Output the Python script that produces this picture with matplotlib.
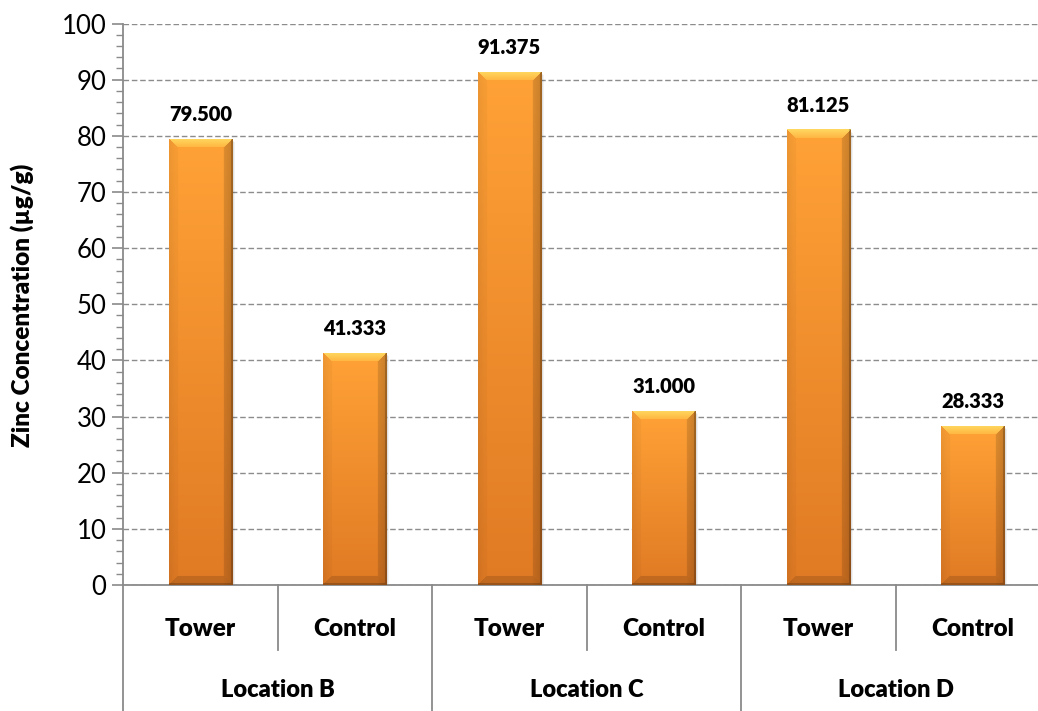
import numpy as np
import matplotlib
matplotlib.use("Agg")
import matplotlib.pyplot as plt
from matplotlib.colors import to_rgb

plt.rcParams['font.family'] = ['Lato', 'DejaVu Sans']

# Data
locations = ["Location B", "Location C", "Location D"]
sites = ["Tower", "Control"]
zinc_values = [79.500, 41.333, 91.375, 31.000, 81.125, 28.333]
value_labels = ["79.500", "41.333", "91.375", "31.000", "81.125", "28.333"]
y_ticks = [0, 10, 20, 30, 40, 50, 60, 70, 80, 90, 100]

W, H, DPI = 1038, 711, 100
fig = plt.figure(figsize=(W / DPI, H / DPI), dpi=DPI)
left_px, right_px, top_px, bottom_px = 123, 1050, 23.5, 585
ax = fig.add_axes([left_px / W, (H - bottom_px) / H,
                   (right_px - left_px) / W, (bottom_px - top_px) / H])

n = len(zinc_values)
x = np.arange(n)
ax.set_xlim(-0.5, n - 0.5)
ax.set_ylim(0, 100)

axis_gray = "#8a8a8a"
for s in ["top", "right"]:
    ax.spines[s].set_visible(False)
for s in ["left", "bottom"]:
    ax.spines[s].set_color(axis_gray)
    ax.spines[s].set_linewidth(1.3)

ax.set_yticks(y_ticks)
ax.set_yticks(np.arange(0, 101, 2), minor=True)
ax.tick_params(axis="y", which="major", length=8, width=1.2, color=axis_gray,
               labelsize=18.5, pad=4, labelcolor="black")
ax.tick_params(axis="y", which="minor", length=5, width=1.0, color=axis_gray)
ax.set_xticks([])
ax.yaxis.grid(True, which="major", color="#8c8c8c", linestyle=(0, (4, 2)), linewidth=1.0)
ax.set_axisbelow(True)

bar_width = 0.41
bars = ax.bar(x, zinc_values, width=bar_width, color="none", edgecolor="none", zorder=3)

fig.canvas.draw()


def bevel_image(wpx, hpx):
    wpx, hpx = max(int(round(wpx)), 4), max(int(round(hpx)), 4)
    yy, xx = np.mgrid[0:hpx, 0:wpx].astype(float)
    t = yy / max(hpx - 1, 1)
    top = np.array(to_rgb("#ffa236"))
    bot = np.array(to_rgb("#e07a24"))
    img = top[None, None, :] * (1 - t[..., None]) + bot[None, None, :] * t[..., None]
    # slight darkening toward the sides
    u = xx / max(wpx - 1, 1)
    side = 1 - 0.10 * np.clip((u - 0.85) / 0.15, 0, 1) - 0.04 * np.clip((0.1 - u) / 0.1, 0, 1)
    img = img * side[..., None]
    b = 9.0
    dl, dr, dt, db = xx, wpx - 1 - xx, yy, hpx - 1 - yy
    dmin = np.minimum(np.minimum(dl, dr), np.minimum(dt, db))
    inb = dmin < b
    topm = inb & (dt == dmin)
    botm = inb & (db == dmin) & ~topm
    leftm = inb & (dl == dmin) & ~topm & ~botm
    rightm = inb & (dr == dmin) & ~topm & ~botm & ~leftm
    tb = (dt / b)[..., None]
    img = np.where(topm[..., None],
                   np.array(to_rgb("#ffd860")) * (1 - tb) + np.array(to_rgb("#ffb440")) * tb, img)
    img = np.where(botm[..., None], img * 0.86, img)
    img = np.where(leftm[..., None], img * 0.97, img)
    img = np.where(rightm[..., None], img * 0.88, img)
    # thin dark outline at the right and bottom edges
    edge = (dr < 1.5) | (db < 1.2)
    img = np.where(edge[..., None], img * 0.80, img)
    return np.clip(img, 0, 1)


for rect in bars:
    bb = rect.get_window_extent()
    x0, w = rect.get_x(), rect.get_width()
    h = rect.get_height()
    # soft shadow to the right and below
    for k, a in [(3, 0.05), (2, 0.07), (1, 0.09)]:
        sx = k * (1.0 / 154.5)
        ax.add_patch(plt.Rectangle((x0 + sx, -k * 0.18), w, h, facecolor="black",
                                   edgecolor="none", alpha=a, zorder=2))
    img = bevel_image(bb.width, bb.height)
    im = ax.imshow(img, extent=(x0, x0 + w, 0, h), aspect="auto",
                   interpolation="bilinear", zorder=3)
    im.set_clip_path(rect)

for xi, v, lab in zip(x, zinc_values, value_labels):
    ax.annotate(lab, (xi, v), xytext=(0, 24), textcoords="offset pixels",
                ha="center", va="center", fontsize=14.5, fontweight="heavy", zorder=5)

# Two-level category axis
trans = ax.get_xaxis_transform()
ax_h = bottom_px - top_px
short_y = -(650 - bottom_px) / ax_h
long_y = -(H - bottom_px) / ax_h
label1_y = -(629 - bottom_px) / ax_h
label2_y = -(690 - bottom_px) / ax_h

for i in range(n):
    ax.text(x[i], label1_y, sites[i % 2], transform=trans, ha="center", va="center",
            fontsize=17.5, fontweight="heavy", clip_on=False)
for g, loc in enumerate(locations):
    ax.text(2 * g + 0.5, label2_y, loc, transform=trans, ha="center", va="center",
            fontsize=17, fontweight="heavy", clip_on=False)
    ax.plot([2 * g + 0.5, 2 * g + 0.5], [0, short_y], transform=trans, color=axis_gray,
            lw=1.3, clip_on=False)
for d in range(len(locations) + 1):
    xd = 2 * d - 0.5
    ax.plot([xd, xd], [0, long_y], transform=trans, color=axis_gray, lw=1.3, clip_on=False)

fig.text(22 / W, 1 - 305 / H, "Zinc Concentration (µg/g)", rotation=90,
         ha="center", va="center", fontsize=17.5, fontweight="heavy")

fig.savefig("out.png", dpi=DPI)
